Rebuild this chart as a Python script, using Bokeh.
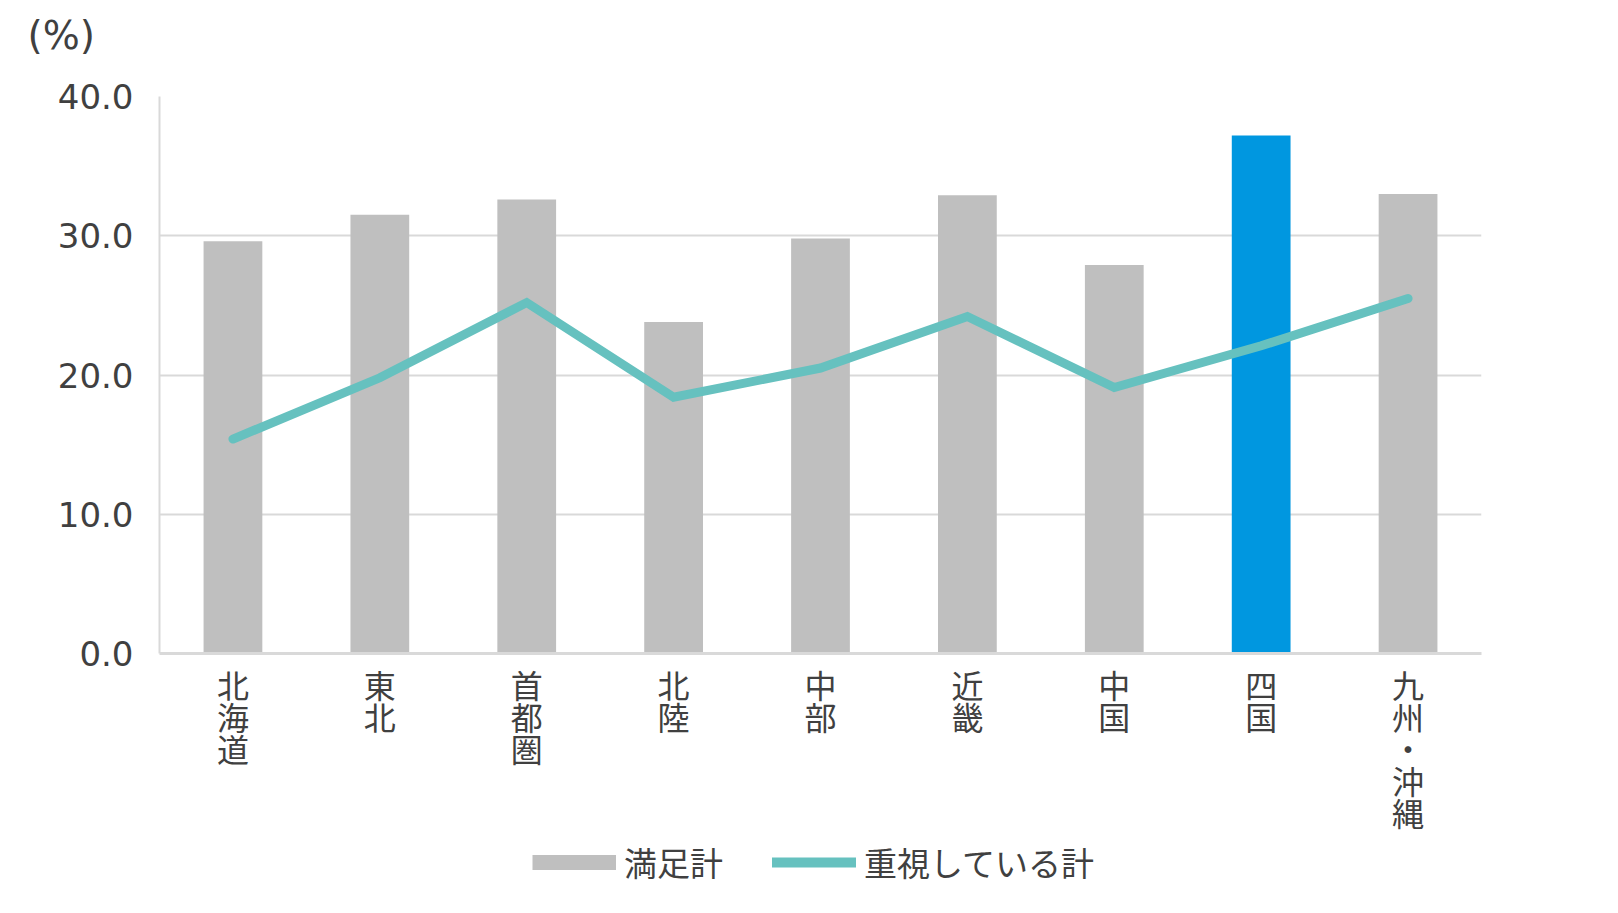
from bokeh.plotting import figure
from bokeh.models import (FactorRange, Range1d, ColumnDataSource, Legend, LegendItem,
                          FixedTicker, NumeralTickFormatter, Title)
from bokeh.layouts import column
from bokeh.embed import file_html
from bokeh.resources import INLINE

categories = ["北海道", "東北", "首都圏", "北陸", "中部", "近畿", "中国", "四国", "九州・沖縄"]
satisfied = [29.6, 31.5, 32.6, 23.8, 29.8, 32.9, 27.9, 37.2, 33.0]
important = [15.4, 19.8, 25.2, 18.4, 20.5, 24.2, 19.1, 22.1, 25.5]
highlight = "四国"
y_ticks = [0, 10, 20, 30, 40]
series_names = ["満足計", "重視している計"]
unit_label = "(%)"

GRAY = "#BFBFBF"
BLUE = "#0097E0"
TEAL = "#66C1BF"
TEXT = "#404040"
GRID = "#D9D9D9"
CJK = "Noto Sans CJK JP"
NUM = "DejaVu Sans"

W = 1610
H_MAIN = 838
H_LEG = 67

# vertical (stacked) category labels used as factors
factors = ["\n".join(c) for c in categories]
colors = [BLUE if c == highlight else GRAY for c in categories]
src = ColumnDataSource(dict(cat=factors, sat=satisfied, imp=important, color=colors))

p = figure(width=W, height=H_MAIN,
           x_range=FactorRange(factors=factors, range_padding=0),
           y_range=Range1d(0, 40),
           output_backend="svg", toolbar_location=None,
           min_border_left=159, min_border_right=129,
           min_border_top=96, min_border_bottom=H_MAIN - 656)

p.outline_line_color = None
p.background_fill_color = "white"
p.border_fill_color = "white"

p.vbar(x="cat", top="sat", width=0.40, source=src, fill_color="color", line_color=None)
p.line(x="cat", y="imp", source=src, line_color=TEAL, line_width=9,
       line_join="miter", line_cap="round")

p.xgrid.grid_line_color = None
p.ygrid.grid_line_color = GRID
p.ygrid.grid_line_width = 2

p.yaxis.ticker = FixedTicker(ticks=y_ticks)
p.yaxis.formatter = NumeralTickFormatter(format="0.0")
p.yaxis.axis_line_color = GRID
p.yaxis.axis_line_width = 2
p.yaxis.major_tick_line_color = None
p.yaxis.minor_tick_line_color = None
p.yaxis.major_label_text_font = NUM
p.yaxis.major_label_text_font_size = "34px"
p.yaxis.major_label_text_color = TEXT
p.yaxis.major_label_standoff = 20

p.xaxis.axis_line_color = GRID
p.xaxis.axis_line_width = 3
p.xaxis.major_tick_line_color = None
p.xaxis.minor_tick_line_color = None
p.xaxis.major_label_text_font = CJK
p.xaxis.major_label_text_font_size = "32px"
p.xaxis.major_label_text_line_height = 0.70
p.xaxis.major_label_text_color = TEXT
p.xaxis.major_label_standoff = 1

# spacer title (closest to the frame) so the unit label sits higher
spacer = Title(text=" ", text_font_size="1px", standoff=36)
p.add_layout(spacer, "above")

p.title.text = unit_label
p.title.align = "left"
p.title.offset = -132
p.title.text_font = NUM
p.title.text_font_size = "39px"
p.title.text_font_style = "normal"
p.title.text_color = TEXT
p.title.standoff = 0

# legend strip below the chart
q = figure(width=W, height=H_LEG,
           x_range=FactorRange(factors=factors, range_padding=0),
           y_range=Range1d(0, 40),
           output_backend="svg", toolbar_location=None, min_border=0)
q.outline_line_color = None
q.axis.visible = False
q.grid.visible = False
nan = float("nan")
leg_bar = q.line(x=factors[:1], y=[nan], line_color=GRAY, line_width=15, line_cap="butt")
leg_line = q.line(x=factors[:1], y=[nan], line_color=TEAL, line_width=10, line_cap="round")

legend = Legend(items=[LegendItem(label=series_names[0], renderers=[leg_bar]),
                       LegendItem(label=series_names[1], renderers=[leg_line])],
                orientation="horizontal", location=(373, 19),
                border_line_color=None, background_fill_alpha=0,
                label_text_font=CJK, label_text_font_size="33px", label_text_color=TEXT,
                label_text_line_height=0.8,
                glyph_width=84, glyph_height=20, spacing=49, label_standoff=8,
                padding=0, margin=0)
q.add_layout(legend, "center")

open("out.html", "w").write(file_html(column(p, q), INLINE))
